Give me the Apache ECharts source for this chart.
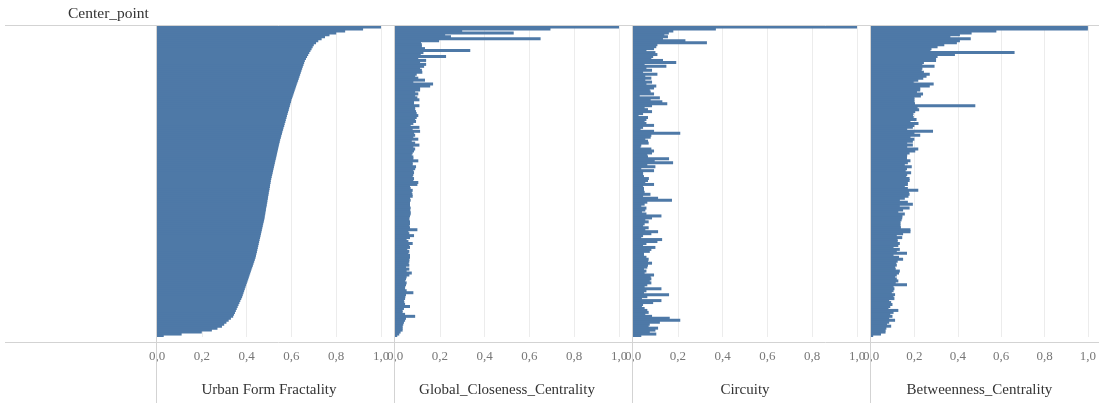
<!DOCTYPE html>
<html>
<head>
<meta charset="utf-8">
<script src="https://cdn.jsdelivr.net/npm/echarts@6/dist/echarts.min.js"></script>
<style>
html,body{margin:0;padding:0;background:#fff;}
#chart{width:1099px;height:403px;}
</style>
</head>
<body>
<div id="chart"></div>
<script>
const rowHeader = 'Center_point';
const measures = ['Urban Form Fractality', 'Global_Closeness_Centrality', 'Circuity', 'Betweenness_Centrality'];
const tickValues = [0, 0.2, 0.4, 0.6, 0.8, 1.0];
const tickLabels = ['0,0', '0,2', '0,4', '0,6', '0,8', '1,0'];

const urbanFormFractality = [
  1.0, 0.92, 0.84, 0.80, 0.77, 0.75, 0.735, 0.72, 0.71, 0.70, 0.695, 0.69, 0.685, 0.68, 0.675, 0.67, 0.665, 0.66,
  0.657, 0.654, 0.651, 0.648, 0.645, 0.642, 0.639, 0.636, 0.633, 0.630, 0.627, 0.624, 0.621, 0.618, 0.615, 0.612, 0.609, 0.606, 0.603, 0.600,
  0.598, 0.595, 0.593, 0.590, 0.588, 0.585, 0.583, 0.580, 0.578, 0.575, 0.573, 0.570, 0.568, 0.565, 0.563, 0.560, 0.558, 0.555, 0.553, 0.550,
  0.548, 0.546, 0.544, 0.542, 0.540, 0.538, 0.536, 0.534, 0.532, 0.530, 0.528, 0.526, 0.524, 0.522, 0.520, 0.518, 0.516, 0.514, 0.512, 0.510,
  0.508, 0.507, 0.505, 0.504, 0.502, 0.501, 0.499, 0.498, 0.496, 0.495, 0.493, 0.492, 0.490, 0.489, 0.487, 0.486, 0.484, 0.483, 0.481, 0.480,
  0.478, 0.476, 0.474, 0.472, 0.470, 0.468, 0.466, 0.464, 0.462, 0.460, 0.458, 0.456, 0.454, 0.452, 0.450, 0.448, 0.446, 0.444, 0.442, 0.440,
  0.437, 0.434, 0.431, 0.428, 0.425, 0.422, 0.419, 0.416, 0.413, 0.410,
  0.407, 0.404, 0.401, 0.398, 0.395, 0.392, 0.389, 0.386, 0.383, 0.380,
  0.376, 0.372, 0.368, 0.364, 0.360,
  0.356, 0.352, 0.348, 0.344, 0.340,
  0.33, 0.32, 0.31, 0.30,
  0.29, 0.27, 0.245, 0.20, 0.11, 0.03
];

const globalClosenessCentrality = [
  1.0, 0.694, 0.30, 0.53, 0.224, 0.25, 0.65, 0.197, 0.116, 0.12,
  0.12, 0.134, 0.336, 0.127, 0.115, 0.228, 0.104, 0.139, 0.112, 0.139,
  0.13, 0.112, 0.12, 0.122, 0.097, 0.09, 0.104, 0.134, 0.082, 0.17,
  0.157, 0.112, 0.112, 0.09, 0.104, 0.09, 0.10, 0.109, 0.085, 0.085,
  0.109, 0.09, 0.09, 0.094, 0.097, 0.104, 0.097, 0.09, 0.094, 0.082,
  0.07, 0.109, 0.079, 0.112, 0.085, 0.09, 0.082, 0.104, 0.075, 0.09,
  0.109, 0.082, 0.09, 0.085, 0.079, 0.075, 0.082, 0.082, 0.104, 0.079,
  0.079, 0.094, 0.09, 0.082, 0.085, 0.082, 0.079, 0.085, 0.082, 0.104,
  0.10, 0.067, 0.07, 0.079, 0.075, 0.078, 0.079, 0.067, 0.07, 0.067,
  0.067, 0.067, 0.07, 0.067, 0.07, 0.07, 0.067, 0.064, 0.064, 0.067,
  0.067, 0.064, 0.067, 0.10, 0.06, 0.064, 0.085, 0.067, 0.052, 0.06,
  0.079, 0.064, 0.067, 0.055, 0.064, 0.06, 0.067, 0.067, 0.064, 0.064,
  0.061, 0.064, 0.049, 0.064, 0.052, 0.075, 0.064, 0.052, 0.049, 0.045,
  0.052, 0.049, 0.045, 0.045, 0.052, 0.082, 0.049, 0.046, 0.045, 0.04,
  0.042, 0.045, 0.067, 0.04, 0.034, 0.034, 0.045, 0.09, 0.049, 0.045,
  0.04, 0.037, 0.034, 0.034, 0.034, 0.025, 0.019, 0.01
];

const circuity = [
  1.0, 0.37, 0.18, 0.16, 0.14, 0.156, 0.134, 0.234, 0.33, 0.109,
  0.104, 0.094, 0.06, 0.10, 0.109, 0.09, 0.082, 0.134, 0.193, 0.052,
  0.149, 0.06, 0.085, 0.045, 0.109, 0.055, 0.082, 0.055, 0.085, 0.06,
  0.104, 0.094, 0.075, 0.079, 0.094, 0.03, 0.12, 0.079, 0.131, 0.153,
  0.085, 0.052, 0.067, 0.085, 0.045, 0.025, 0.067, 0.06, 0.052, 0.06,
  0.094, 0.045, 0.034, 0.094, 0.211, 0.082, 0.079, 0.055, 0.067, 0.07,
  0.037, 0.034, 0.082, 0.094, 0.085, 0.064, 0.067, 0.161, 0.097, 0.179,
  0.064, 0.10, 0.037, 0.094, 0.045, 0.045, 0.049, 0.071, 0.067, 0.055,
  0.094, 0.045, 0.049, 0.049, 0.052, 0.078, 0.045, 0.112, 0.174, 0.064,
  0.052, 0.037, 0.06, 0.055, 0.04, 0.06, 0.127, 0.085, 0.055, 0.07,
  0.052, 0.045, 0.07, 0.055, 0.112, 0.082, 0.045, 0.037, 0.13, 0.109,
  0.06, 0.045, 0.10, 0.082, 0.075, 0.049, 0.049, 0.06, 0.07, 0.067,
  0.085, 0.067, 0.064, 0.049, 0.06, 0.052, 0.094, 0.079, 0.082, 0.075,
  0.082, 0.064, 0.052, 0.127, 0.06, 0.049, 0.161, 0.064, 0.04, 0.127,
  0.09, 0.045, 0.04, 0.052, 0.064, 0.07, 0.055, 0.085, 0.164, 0.211,
  0.12, 0.075, 0.07, 0.112, 0.10, 0.075, 0.104, 0.037
];

const betweennessCentrality = [
  1.0, 1.0, 0.578, 0.464, 0.41, 0.366, 0.46, 0.41, 0.396, 0.338,
  0.307, 0.279, 0.274, 0.662, 0.387, 0.307, 0.30, 0.30, 0.244, 0.237,
  0.293, 0.237, 0.234, 0.244, 0.271, 0.256, 0.241, 0.218, 0.197, 0.289,
  0.271, 0.227, 0.227, 0.212, 0.24, 0.23, 0.20, 0.20, 0.20, 0.203,
  0.481, 0.215, 0.222, 0.204, 0.196, 0.194, 0.197, 0.21, 0.182, 0.219,
  0.20, 0.193, 0.167, 0.286, 0.20, 0.227, 0.182, 0.20, 0.193, 0.167,
  0.193, 0.167, 0.218, 0.204, 0.178, 0.167, 0.166, 0.166, 0.182, 0.17,
  0.156, 0.188, 0.166, 0.16, 0.185, 0.167, 0.163, 0.178, 0.178, 0.17,
  0.17, 0.156, 0.17, 0.218, 0.175, 0.178, 0.173, 0.156, 0.133, 0.17,
  0.193, 0.133, 0.178, 0.148, 0.126, 0.156, 0.145, 0.144, 0.141, 0.136,
  0.136, 0.136, 0.138, 0.182, 0.182, 0.148, 0.119, 0.144, 0.123, 0.123,
  0.133, 0.126, 0.104, 0.133, 0.119, 0.166, 0.104, 0.129, 0.148, 0.123,
  0.116, 0.119, 0.111, 0.114, 0.133, 0.129, 0.119, 0.111, 0.119, 0.126,
  0.114, 0.166, 0.104, 0.108, 0.104, 0.096, 0.111, 0.104, 0.108, 0.084,
  0.093, 0.099, 0.089, 0.081, 0.126, 0.104, 0.089, 0.099, 0.084, 0.111,
  0.084, 0.074, 0.093, 0.071, 0.067, 0.067, 0.046, 0.01
];

const categories = urbanFormFractality.map((_, i) => 'CP' + String(i + 1).padStart(3, '0'));
const seriesData = [urbanFormFractality, globalClosenessCentrality, circuity, betweennessCentrality];

const FONT = "'Liberation Serif', 'DejaVu Serif', serif";
const BAR = '#4e79a7';
const LINE = '#d3d3d3';
const panelLeft0 = 157, panelStep = 238, panelWidth = 224, plotTop = 26, plotHeight = 316;

const chart = echarts.init(document.getElementById('chart'), null, {renderer: 'canvas'});

const grids = [], xAxes = [], yAxes = [], series = [];
measures.forEach((name, k) => {
  grids.push({left: panelLeft0 + panelStep * k, top: plotTop, width: panelWidth, height: plotHeight, containLabel: false});
  xAxes.push({
    type: 'value', gridIndex: k, min: 0, max: 1, interval: 0.2,
    name: name, nameLocation: 'middle', nameGap: 46,
    nameTextStyle: {fontFamily: FONT, fontSize: 15, color: '#333'},
    axisLine: {show: false}, axisTick: {show: false},
    axisLabel: {
      fontFamily: FONT, fontSize: 13, color: '#777', margin: 13,
      formatter: v => { const i = tickValues.findIndex(t => Math.abs(t - v) < 1e-6); return i >= 0 ? tickLabels[i] : ''; }
    },
    splitLine: {show: true, lineStyle: {color: '#ececec', width: 1}}
  });
  yAxes.push({
    type: 'category', gridIndex: k, data: categories, inverse: true,
    axisLine: {show: false}, axisTick: {show: false}, axisLabel: {show: false}, splitLine: {show: false}
  });
  series.push({
    type: 'bar', xAxisIndex: k, yAxisIndex: k, data: seriesData[k],
    barWidth: 3, barGap: '-100%',
    itemStyle: {color: BAR}, silent: true, animation: false
  });
});

const graphics = [
  {type: 'line', shape: {x1: 5, y1: 25.5, x2: 1099, y2: 25.5}, style: {stroke: LINE, lineWidth: 1}, z: 10},
  {type: 'line', shape: {x1: 5, y1: 342.5, x2: 1099, y2: 342.5}, style: {stroke: LINE, lineWidth: 1}, z: 10},
  {type: 'text', left: 68, top: 6, style: {text: rowHeader, font: "15.5px 'Liberation Serif', serif", fill: '#333'}}
];
for (let k = 0; k < 4; k++) {
  const x = panelLeft0 + panelStep * k - 0.5;
  graphics.push({type: 'line', shape: {x1: x, y1: 26, x2: x, y2: 403}, style: {stroke: LINE, lineWidth: 1}, z: 10});
}

chart.setOption({
  animation: false,
  grid: grids, xAxis: xAxes, yAxis: yAxes, series: series,
  graphic: graphics
});
</script>
</body>
</html>
